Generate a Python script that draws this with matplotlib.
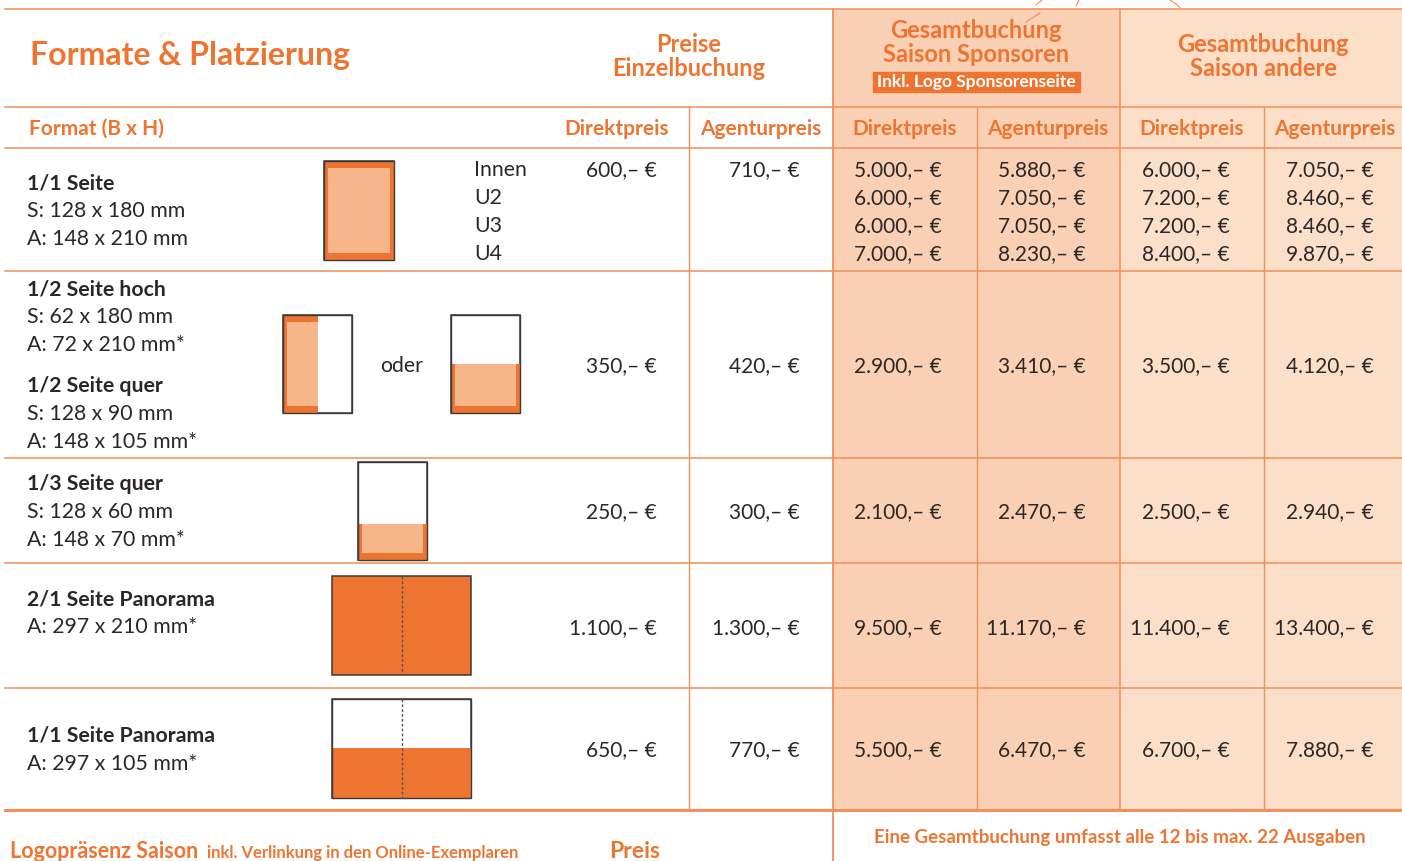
import matplotlib.pyplot as plt
from matplotlib.patches import Rectangle

plt.rcParams['font.family'] = ['Lato', 'DejaVu Sans']

# Farben
ORANGE = '#EE7531'
LINE = '#F0905A'
LIGHT = '#F6B68A'
SPONSOR_BG = '#F9D0B3'
ANDERE_BG = '#FBDFC9'
DARK = '#2B2627'

# Daten
formate = [
    [('1/1 Seite', True), ('S: 128 x 180 mm', False), ('A: 148 x 210 mm', False)],
    [('1/2 Seite hoch', True), ('S: 62 x 180 mm', False), ('A: 72 x 210 mm*', False),
     ('1/2 Seite quer', True), ('S: 128 x 90 mm', False), ('A: 148 x 105 mm*', False)],
    [('1/3 Seite quer', True), ('S: 128 x 60 mm', False), ('A: 148 x 70 mm*', False)],
    [('2/1 Seite Panorama', True), ('A: 297 x 210 mm*', False)],
    [('1/1 Seite Panorama', True), ('A: 297 x 105 mm*', False)],
]
platzierung = ['Innen', 'U2', 'U3', 'U4']
einzel_direkt = ['600', '350', '250', '1.100', '650']
einzel_agentur = ['710', '420', '300', '1.300', '770']
sponsor_direkt = [['5.000', '6.000', '6.000', '7.000'], ['2.900'], ['2.100'], ['9.500'], ['5.500']]
sponsor_agentur = [['5.880', '7.050', '7.050', '8.230'], ['3.410'], ['2.470'], ['11.170'], ['6.470']]
andere_direkt = [['6.000', '7.200', '7.200', '8.400'], ['3.500'], ['2.500'], ['11.400'], ['6.700']]
andere_agentur = [['7.050', '8.460', '8.460', '9.870'], ['4.120'], ['2.940'], ['13.400'], ['7.880']]

def preis(v):
    return v + ',\u2013 \u20ac'

fig = plt.figure(figsize=(14.02, 8.61), dpi=100)
ax = fig.add_axes([0, 0, 1, 1])
ax.set_xlim(0, 1402)
ax.set_ylim(861, 0)
ax.axis('off')

# Zeilen-Grenzen
row_y = [148, 271, 458, 563, 688, 810]

# Hintergruende
ax.add_patch(Rectangle((833, 9), 287, 852, color=SPONSOR_BG, zorder=0))
ax.add_patch(Rectangle((1120, 9), 282, 801, color=ANDERE_BG, zorder=0))
ax.add_patch(Rectangle((833, 810), 569, 51, color='white', zorder=0))

# Linien
for y in [9, 107, 148] + row_y[1:-1]:
    ax.plot([5, 1402], [y, y], color=LINE, lw=1.1, zorder=1)
ax.plot([5, 1402], [810, 810], color=LINE, lw=2.2, zorder=1)
ax.plot([833, 833], [9, 861], color=LINE, lw=1.3, zorder=1)
ax.plot([1120, 1120], [9, 810], color=LINE, lw=1.1, zorder=1)
for x in [689, 977, 1264]:
    ax.plot([x, x], [107, 810], color=LINE, lw=1.0, zorder=1)

# kleine Striche oben (Reste)
ax.plot([1036, 1042], [5, 0], color=LINE, lw=0.8)
ax.plot([1076, 1079], [6, 0], color=LINE, lw=0.8)
ax.plot([1170, 1176, 1180], [0, 4, 8], color=LINE, lw=0.8)
ax.plot([1026, 1040], [22, 13], color=LINE, lw=0.8)

# Kopf
HEAD = 17
ax.text(30, 55, 'Formate & Platzierung', fontsize=23, fontweight='bold', color=ORANGE, va='center')
ax.text(689, 45, 'Preise', fontsize=HEAD, fontweight='bold', color=ORANGE, ha='center', va='center')
ax.text(689, 69, 'Einzelbuchung', fontsize=HEAD, fontweight='bold', color=ORANGE, ha='center', va='center')
ax.text(976, 31, 'Gesamtbuchung', fontsize=HEAD, fontweight='bold', color=ORANGE, ha='center', va='center')
ax.text(976, 55, 'Saison Sponsoren', fontsize=HEAD, fontweight='bold', color=ORANGE, ha='center', va='center')
ax.add_patch(Rectangle((873, 72), 207, 20, color=ORANGE, zorder=2))
ax.text(976, 82, 'Inkl. Logo Sponsorenseite', fontsize=12.5, fontweight='bold', color='white',
        ha='center', va='center', zorder=3)
ax.text(1263, 45, 'Gesamtbuchung', fontsize=HEAD, fontweight='bold', color=ORANGE, ha='center', va='center')
ax.text(1263, 69, 'Saison andere', fontsize=HEAD, fontweight='bold', color=ORANGE, ha='center', va='center')

ax.text(29, 129, 'Format (B x H)', fontsize=15, fontweight='bold', color=ORANGE, va='center')
for x, lab in zip([617, 761, 905, 1048, 1192, 1335],
                  ['Direktpreis', 'Agenturpreis'] * 3):
    ax.text(x, 129, lab, fontsize=15, fontweight='bold', color=ORANGE, ha='center', va='center')

# Formate links
starts = [183, 289, 484, 599, 736]
for r, lines in enumerate(formate):
    y = starts[r]
    for i, (txt, bold) in enumerate(lines):
        yy = y + i * 28 + (13 if r == 1 and i >= 3 else 0)
        ax.text(27, yy, txt, fontsize=15.3, fontweight='bold' if bold else 'normal',
                color=DARK, va='center')

for i, p in enumerate(platzierung):
    ax.text(474, 170 + i * 28, p, fontsize=15.3, color=DARK, va='center')

# Preise
centers = [None, 366, 512, 628, 750]
cols = [(657, einzel_direkt), (800, einzel_agentur)]
for x, vals in cols:
    for r, v in enumerate(vals):
        y = 170 if r == 0 else centers[r]
        ax.text(x, y, preis(v), fontsize=15, color=DARK, ha='right', va='center')

gcols = [(942, sponsor_direkt), (1086, sponsor_agentur), (1230, andere_direkt), (1374, andere_agentur)]
for x, vals in gcols:
    for r, vs in enumerate(vals):
        if r == 0:
            for i, v in enumerate(vs):
                ax.text(x, 170 + i * 28, preis(v), fontsize=15, color=DARK, ha='right', va='center')
        else:
            ax.text(x, centers[r], preis(vs[0]), fontsize=15, color=DARK, ha='right', va='center')

# Symbole
EDGE = '#3A3A3A'

def box(x, y, w, h, fill='white'):
    ax.add_patch(Rectangle((x, y), w, h, facecolor=fill, edgecolor=EDGE, lw=1.1, zorder=4))

def orange_part(x, y, w, h, left=True, right=True, top=True, bottom=True):
    ax.add_patch(Rectangle((x, y), w, h, facecolor=ORANGE, lw=0, zorder=5))
    x0 = x + (4 if left else 0)
    x1 = x + w - (4 if right else 0)
    y0 = y + (7 if top else 0)
    y1 = y + h - (7 if bottom else 0)
    ax.add_patch(Rectangle((x0, y0), x1 - x0, y1 - y0, facecolor=LIGHT, lw=0, zorder=6))

# 1/1
box(324, 161, 70, 99)
orange_part(324, 161, 70, 99)
ax.add_patch(Rectangle((324, 161), 70, 99, fill=False, edgecolor=EDGE, lw=1.0, zorder=7))
# 1/2 hoch
box(283, 315, 69, 98)
orange_part(283, 315, 35, 98, right=False)
ax.add_patch(Rectangle((283, 315), 69, 98, fill=False, edgecolor=EDGE, lw=1.0, zorder=7))
ax.text(402, 366, 'oder', fontsize=15.3, color=DARK, ha='center', va='center')
# 1/2 quer
box(451, 315, 69, 98)
orange_part(451, 364, 69, 49, top=False)
ax.add_patch(Rectangle((451, 315), 69, 98, fill=False, edgecolor=EDGE, lw=1.0, zorder=7))
# 1/3 quer
box(358, 462, 69, 98)
orange_part(358, 524, 69, 36, top=False)
ax.add_patch(Rectangle((358, 462), 69, 98, fill=False, edgecolor=EDGE, lw=1.0, zorder=7))
# 2/1 Panorama
box(332, 576, 139, 99, fill=ORANGE)
ax.plot([402, 402], [576, 675], color='#555555', lw=1.0, ls=(0, (2, 1.5)), zorder=8)
# 1/1 Panorama
box(332, 699, 139, 99)
ax.add_patch(Rectangle((332, 748), 139, 50, facecolor=ORANGE, lw=0, zorder=5))
ax.add_patch(Rectangle((332, 699), 139, 99, fill=False, edgecolor=EDGE, lw=1.0, zorder=7))
ax.plot([402, 402], [699, 798], color='#555555', lw=1.0, ls=(0, (2, 1.5)), zorder=8)

# Fusszeile
ax.text(10, 851, 'Logopräsenz Saison', fontsize=15.5, fontweight='bold', color=ORANGE, va='center')
ax.text(207, 853, 'inkl. Verlinkung in den Online-Exemplaren', fontsize=12, fontweight='bold',
        color=ORANGE, va='center')
ax.text(635, 851, 'Preis', fontsize=16.5, fontweight='bold', color=ORANGE, ha='center', va='center')
ax.text(1120, 838, 'Eine Gesamtbuchung umfasst alle 12 bis max. 22 Ausgaben', fontsize=13.5,
        fontweight='bold', color=ORANGE, ha='center', va='center')

fig.savefig('out.png', dpi=100)
